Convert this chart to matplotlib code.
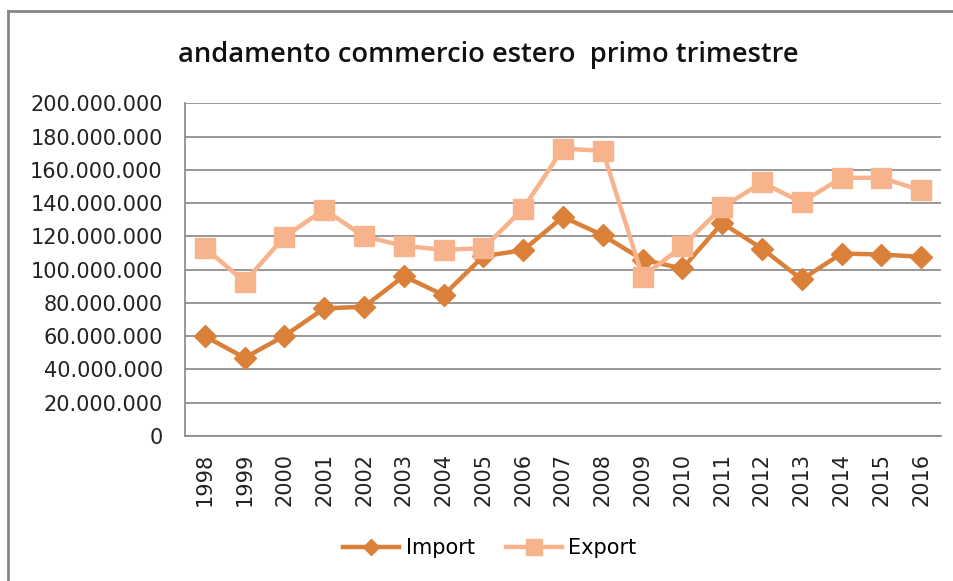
import matplotlib
matplotlib.use("Agg")
import matplotlib.pyplot as plt
from matplotlib.lines import Line2D

years = ["1998", "1999", "2000", "2001", "2002", "2003", "2004", "2005", "2006", "2007",
         "2008", "2009", "2010", "2011", "2012", "2013", "2014", "2015", "2016"]
import_vals = [60.0, 47.0, 60.2, 76.7, 77.7, 96.1, 84.7, 108.1, 111.7, 131.7,
               120.7, 106.0, 100.7, 128.0, 112.7, 94.1, 109.7, 109.1, 107.7]
export_vals = [113.1, 92.7, 119.8, 136.1, 120.0, 114.3, 111.9, 112.9, 136.7, 172.8,
               171.4, 95.7, 114.1, 137.4, 152.4, 140.5, 155.2, 155.2, 147.7]
import_vals = [v * 1e6 for v in import_vals]
export_vals = [v * 1e6 for v in export_vals]
yticks = list(range(0, 200000001, 20000000))
ytick_labels = ["0" if t == 0 else f"{t:,}".replace(",", ".") for t in yticks]

c_imp = "#DA8039"
c_exp = "#F7B48C"
grid_c = "#868686"

plt.rcParams["font.family"] = ["DejaVu Sans"]
fig = plt.figure(figsize=(9.54, 5.81), dpi=100)
ax = fig.add_axes([185/954, (581-436)/581, (941-185)/954, (436-103.3)/581])

x = list(range(len(years)))
ax.plot(x, import_vals, color=c_imp, lw=3.2, marker="D", ms=11, zorder=3, label="Import")
ax.plot(x, export_vals, color=c_exp, lw=3.2, marker="s", ms=14, zorder=4, label="Export")

ax.set_xlim(-0.5, len(years) - 0.5)
ax.set_ylim(0, 200000000)
ax.set_yticks(yticks)
ax.set_yticklabels(ytick_labels, fontsize=15, color="#222222")
ax.set_xticks(x)
ax.set_xticklabels(years, rotation=90, fontsize=15, color="#222222")
ax.tick_params(axis="y", length=0, pad=16)
ax.tick_params(axis="x", length=0, pad=12)
ax.yaxis.grid(True, color=grid_c, lw=1.2)
ax.set_axisbelow(True)
for s in ["top", "right"]:
    ax.spines[s].set_visible(False)
for s in ["left", "bottom"]:
    ax.spines[s].set_color(grid_c)
    ax.spines[s].set_linewidth(1.2)

fig.text(488/954, 1 - 55/581, "andamento commercio estero  primo trimestre",
         ha="center", va="center", fontsize=19.6, color="#111111",
         family=["Open Sans", "DejaVu Sans"], fontweight="semibold")

handles = [Line2D([], [], color=c_imp, lw=3.2, marker="D", ms=8),
           Line2D([], [], color=c_exp, lw=3.2, marker="s", ms=12)]
fig.legend(handles, ["Import", "Export"], loc="center", bbox_to_anchor=(490/954, 1 - 548/581),
           ncol=2, frameon=False, fontsize=15, handlelength=2.7, columnspacing=1.5,
           handletextpad=0.3)

# outer frame (partially visible)
fig.add_artist(Line2D([8.5/954, 8.5/954], [0, 1 - 10.5/581], transform=fig.transFigure,
                      color=grid_c, lw=2))
fig.add_artist(Line2D([8.5/954, 1], [1 - 10.5/581, 1 - 10.5/581], transform=fig.transFigure,
                      color=grid_c, lw=2))

fig.savefig("out.png", dpi=100)
